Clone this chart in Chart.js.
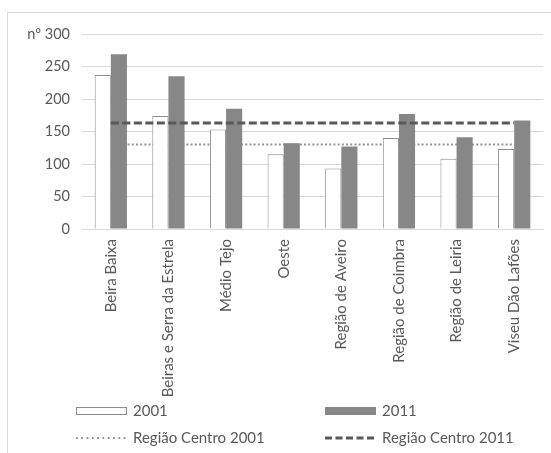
<!DOCTYPE html>
<html>
<head>
<meta charset="utf-8">
<script src="https://cdn.jsdelivr.net/npm/chart.js@4"></script>
<style>
  html, body { margin: 0; padding: 0; background: #fff; }
  .wrap { position: relative; width: 551px; height: 453px; overflow: hidden; }
  .frame { position: absolute; left: 7px; top: 12px; width: 600px; height: 500px; border: 1px solid #d9d9d9; }
  canvas { position: absolute; left: 0; top: 0; }
</style>
</head>
<body>
<div class="wrap">
  <div class="frame"></div>
  <canvas id="chart" width="551" height="453"></canvas>
</div>
<script>
// Values
const regions = ['Beira Baixa', 'Beiras e Serra da Estrela', 'Médio Tejo', 'Oeste',
  'Região de Aveiro', 'Região de Coimbra', 'Região de Leiria', 'Viseu Dão Lafões'];
const values2001 = [237, 174, 153, 115, 93, 140, 108, 123];
const values2011 = [269, 235, 185, 132, 127, 177, 141, 167];
const centro2001 = [130, 130, 130, 130, 130, 130, 130, 130];
const centro2011 = [163, 163, 163, 163, 163, 163, 163, 163];
const yTicks = [0, 50, 100, 150, 200, 250, 300];

const FONT = 'Lato, "Liberation Sans", sans-serif';
const TEXT = '#595959';

// Two-column legend drawn under the axis labels, like the Excel original
const legendPlugin = {
  id: 'gridLegend',
  afterDraw(chart) {
    const ctx = chart.ctx;
    const ds = chart.data.datasets;
    const cols = [76, 325];
    const rows = [411, 438];
    const items = [
      { d: ds[0], col: 0, row: 0, type: 'box' },
      { d: ds[1], col: 1, row: 0, type: 'box' },
      { d: ds[2], col: 0, row: 1, type: 'line', dash: [1.8, 3.5] },
      { d: ds[3], col: 1, row: 1, type: 'line', dash: [7, 3.5] }
    ];
    ctx.save();
    items.forEach(it => {
      const x = cols[it.col], y = rows[it.row];
      if (it.type === 'box') {
        ctx.fillStyle = it.d.backgroundColor;
        ctx.fillRect(x, y - 4, 50, 8);
        ctx.strokeStyle = it.d.borderColor;
        ctx.lineWidth = 1;
        ctx.strokeRect(x + 0.5, y - 3.5, 50, 7);
      } else {
        ctx.strokeStyle = it.d.borderColor;
        ctx.lineWidth = it.d.borderWidth;
        ctx.setLineDash(it.dash);
        ctx.beginPath();
        ctx.moveTo(x, y);
        ctx.lineTo(x + 51, y);
        ctx.stroke();
        ctx.setLineDash([]);
      }
      ctx.fillStyle = TEXT;
      ctx.font = '15px ' + FONT;
      ctx.textBaseline = 'middle';
      ctx.fillText(it.d.label, x + 57, y);
    });
    ctx.restore();
  }
};

new Chart(document.getElementById('chart'), {
  type: 'bar',
  data: {
    labels: regions,
    datasets: [
      {
        label: '2001',
        data: values2001,
        backgroundColor: '#ffffff',
        borderColor: '#8c8c8c',
        borderWidth: 1,
        categoryPercentage: 0.56,
        barPercentage: 1.0,
        order: 1
      },
      {
        label: '2011',
        data: values2011,
        backgroundColor: '#878787',
        borderColor: '#878787',
        borderWidth: 0,
        categoryPercentage: 0.56,
        barPercentage: 1.0,
        order: 1
      },
      {
        type: 'line',
        label: 'Região Centro 2001',
        data: centro2001,
        borderColor: '#939393',
        borderWidth: 2.2,
        borderDash: [2, 2.2],
        pointRadius: 0,
        fill: false,
        order: 2
      },
      {
        type: 'line',
        label: 'Região Centro 2011',
        data: centro2011,
        borderColor: '#595959',
        borderWidth: 3,
        borderDash: [8, 3.5],
        pointRadius: 0,
        fill: false,
        order: 0
      }
    ]
  },
  options: {
    responsive: false,
    animation: false,
    layout: { padding: { top: 34, left: 0, right: 8, bottom: 46 } },
    plugins: {
      legend: { display: false },
      tooltip: { enabled: false }
    },
    scales: {
      x: {
        grid: { display: false, drawTicks: false },
        border: { color: '#d9d9d9' },
        ticks: {
          color: TEXT,
          font: { family: FONT, size: 15 },
          minRotation: 90,
          maxRotation: 90,
          autoSkip: false,
          padding: 10
        },
        afterFit(scale) { scale.height = 178; }
      },
      y: {
        min: 0,
        max: 300,
        afterBuildTicks(scale) { scale.ticks = yTicks.map(v => ({ value: v })); },
        grid: { color: '#d9d9d9', drawTicks: false },
        border: { display: false },
        ticks: {
          color: TEXT,
          font: { family: FONT, size: 14.5 },
          padding: 12,
          callback: v => v === 300 ? 'nº 300' : String(v)
        },
        afterFit(scale) { scale.width = 82; }
      }
    }
  },
  plugins: [legendPlugin]
});
</script>
</body>
</html>
